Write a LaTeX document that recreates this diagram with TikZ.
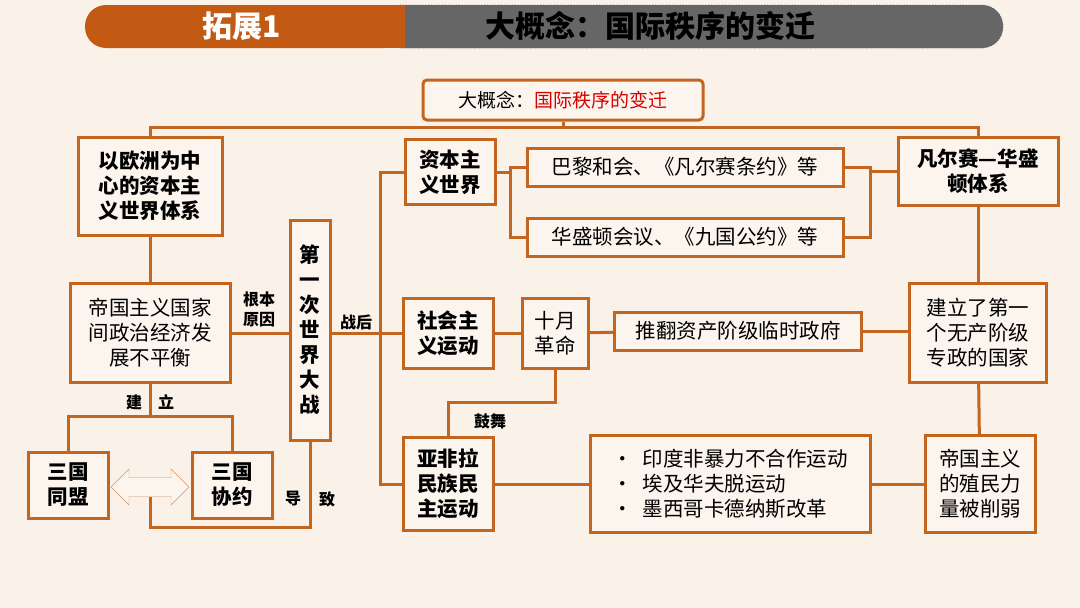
\documentclass[tikz,border=0pt]{standalone}
\usepackage{fontspec}
\setmainfont{Noto Sans CJK SC}
\usetikzlibrary{positioning}
\usetikzlibrary{shapes.arrows}
\definecolor{linebrown}{HTML}{C4651F}
\definecolor{paper}{HTML}{FAF1E8}
\definecolor{boxfill}{HTML}{FCF5EE}
\definecolor{headbrown}{HTML}{C25A14}
\definecolor{headyellow}{HTML}{F7DF66}
\tikzset{
    % Ordinary boxes of the chart
    chart box/.style={draw=linebrown, line width=3pt, fill=boxfill,
        align=center, inner sep=3pt, font=\fontsize{20.5}{25}\selectfont},
    % Boxes whose text is set heavier
    key box/.style={chart box, font=\fontsize{20.5}{25}\selectfont\bfseries},
    % The connectors
    link/.style={draw=linebrown, line width=3pt},
    % Small labels beside the connectors
    link label/.style={font=\fontsize{16}{20}\selectfont\bfseries, align=center}}
\begin{document}
\begin{tikzpicture}[x=1pt, y=-1pt]
\fill[paper] (0,0) rectangle (1080,608);
\useasboundingbox (0,0) rectangle (1080,608);

% header band
\draw[fill=headyellow, dotted, thick, black!60, rounded corners=21pt] (380,5) rectangle (1003,48);
\fill[headbrown, rounded corners=21pt] (85,5) rectangle (405,48);
\fill[headbrown] (370,5) rectangle (405,48);
\node[text=white, font=\fontsize{30}{34}\selectfont\bfseries] (head left) at (242,26) {拓展1};
\node[font=\fontsize{30}{34}\selectfont\bfseries] (head right) at (650,26) {大概念：国际秩序的变迁};

% boxes
\node[chart box, rounded corners=4pt, minimum width=280, minimum height=40, font=\fontsize{19}{24}\selectfont] (root) at (563,100)
    {大概念：\textcolor{red!85!black}{国际秩序的变迁}};
\node[key box, minimum width=144, minimum height=98] (europe) at (150,186)
    {以欧洲为中\\心的资本主\\义世界体系};
\node[chart box, minimum width=160, minimum height=99] (uneven) at (150,333)
    {帝国主义国家\\间政治经济发\\展不平衡};
\node[key box, minimum width=80, minimum height=66] (alliance) at (68,485) {三国\\同盟};
\node[key box, minimum width=80, minimum height=66] (entente) at (232,485) {三国\\协约};
\node[key box, minimum width=40, minimum height=220, inner sep=1pt] (war) at (310,330)
    {第\\一\\次\\世\\界\\大\\战};
\node[key box, minimum width=90, minimum height=65] (capital) at (450,172) {资本主\\义世界};
\node[key box, minimum width=90, minimum height=70] (social) at (448,333) {社会主\\义运动};
\node[key box, minimum width=90, minimum height=93] (afro) at (448,484) {亚非拉\\民族民\\主运动};
\node[chart box, minimum width=316, minimum height=38] (paris) at (685,167)
    {巴黎和会、《凡尔赛条约》等};
\node[chart box, minimum width=316, minimum height=38] (washington) at (685,237)
    {华盛顿会议、《九国公约》等};
\node[key box, minimum width=160, minimum height=68] (versailles) at (978,171) {凡尔赛—华盛\\顿体系};
\node[chart box, minimum width=66, minimum height=70] (october) at (555,333) {十月\\革命};
\node[chart box, minimum width=247, minimum height=38] (overthrow) at (738,331) {推翻资产阶级临时政府};
\node[chart box, minimum width=137, minimum height=99] (soviet) at (978,333)
    {建立了第一\\个无产阶级\\专政的国家};
\node[chart box, minimum width=280, minimum height=97, align=left] (movements) at (730,484)
    {•\enspace 印度非暴力不合作运动\\•\enspace 埃及华夫脱运动\\•\enspace 墨西哥卡德纳斯改革};
\node[chart box, minimum width=110, minimum height=97] (weakened) at (980,484)
    {帝国主义\\的殖民力\\量被削弱};

% labels
\node[link label] (cause) at (259,309) {根本\\原因};
\node[link label] (build) at (150,402) {建\quad 立};
\node[link label] (lead a) at (293,499) {导};
\node[link label] (lead b) at (327,499) {致};
\node[link label] (after) at (356,322) {战后};
\node[link label] (inspire) at (490,421) {鼓舞};

% connectors
\draw[link] (root.south) -- (563,127);
\draw[link] (europe.north) |- (563,127) -| (versailles.north);
\draw[link] (europe) -- (uneven);
\draw[link] (uneven) -- (war.west |- uneven);
\draw[link] (uneven.south) -- (150,416);
\draw[link] (alliance.north) |- (150,416) -| (entente.north);
\draw[link] (war.south) |- (150,527) -- (150,497);
\draw[link] (war.east |- uneven) -- (380,333);
\draw[link] (capital.west) -| (380,333) |- (afro.west);
\draw[link] (380,333) -- (social.west);
\draw[link] (capital.east) -- (510,172);
\draw[link] (paris.west) -| (510,172) |- (washington.west);
\draw[link] (paris.east) -| (870,202) |- (washington.east);
\draw[link] (870,171) -- (versailles.west);
\draw[link] (versailles) -- (soviet);
\draw[link] (soviet) -- (weakened);
\draw[link] (social) -- (october);
\draw[link] (october) -- (overthrow);
\draw[link] (overthrow) -- (soviet.west |- overthrow);
\draw[link] (october.south) |- (448,402) -- (afro.north);
\draw[link] (afro) -- (movements);
\draw[link] (movements) -- (weakened);
\node[double arrow, draw=linebrown!70, fill=boxfill, thin, inner sep=4pt,
    minimum width=36, double arrow head extend=4pt, minimum height=78] (rivalry) at (150,487) {};
\end{tikzpicture}
\end{document}
